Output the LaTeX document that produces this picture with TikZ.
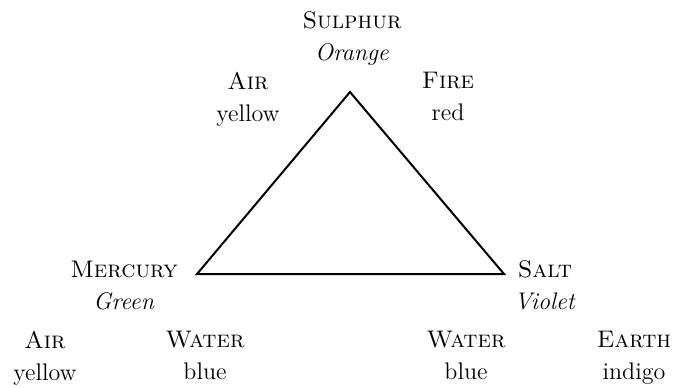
\documentclass[tikz,border=0pt]{standalone}
\usepackage{tikz}

\begin{document}
\begin{tikzpicture}[x=0.5pt,y=-0.5pt,
  lbl/.style={anchor=north,inner sep=0pt,align=center,font=\fontsize{12}{16}\selectfont}]
\useasboundingbox (0,0) rectangle (674,387);
% ---- TRIANGLE ----
\coordinate (top) at (350,92);
\coordinate (left) at (197,274);
\coordinate (right) at (504,274);
\draw[line width=1pt] (top) -- (left) -- (right) -- cycle;
% ---- PRINCIPLES ----
\node[lbl] (sulphur) at (352,11.5) {\textsc{Sulphur}\\\textit{Orange}};
\node[lbl] (mercury) at (124,260.5) {\textsc{Mercury}\\\textit{Green}};
\node[lbl] (salt) at (545,260.5) {\textsc{Salt}\\\textit{Violet}};
% ---- ELEMENTS ----
\node[lbl] (airtop) at (248,71.5) {\textsc{Air}\\yellow};
\node[lbl] (fire) at (448,71.5) {\textsc{Fire}\\red};
\node[lbl] (airbot) at (45,330.5) {\textsc{Air}\\yellow};
\node[lbl] (waterl) at (205,330.5) {\textsc{Water}\\blue};
\node[lbl] (waterr) at (466,330.5) {\textsc{Water}\\blue};
\node[lbl] (earth) at (634,330.5) {\textsc{Earth}\\indigo};
\end{tikzpicture}
\end{document}
